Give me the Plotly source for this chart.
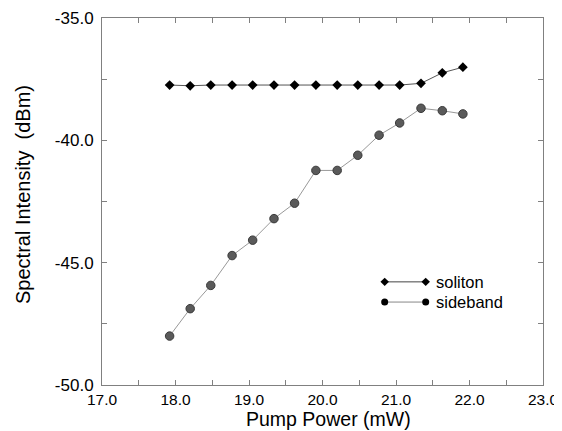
import plotly.graph_objects as go

pump_power = [17.92, 18.20, 18.48, 18.77, 19.05, 19.34, 19.62, 19.91, 20.20, 20.48, 20.77, 21.05, 21.34, 21.63, 21.91]
soliton = [-37.74, -37.77, -37.74, -37.74, -37.74, -37.74, -37.74, -37.74, -37.74, -37.74, -37.74, -37.74, -37.67, -37.24, -37.01]
sideband = [-48.0, -46.88, -45.93, -44.71, -44.08, -43.20, -42.57, -41.23, -41.23, -40.61, -39.79, -39.29, -38.69, -38.79, -38.92]
series_names = ["soliton", "sideband"]
x_ticks = [17.0, 18.0, 19.0, 20.0, 21.0, 22.0, 23.0]
y_ticks = [-50.0, -45.0, -40.0, -35.0]

FONT = "Liberation Sans, Arial, Helvetica, sans-serif"

# the page body has an 8px margin, so the figure is made 8px smaller and offsets reduced
PW, PH = 441, 367  # plot area size in px

fig = go.Figure()
fig.add_trace(go.Scatter(
    x=pump_power, y=soliton, mode="lines+markers", name=series_names[0],
    line=dict(color="#555555", width=1),
    marker=dict(symbol="diamond", size=7.5, color="black"),
    showlegend=False))
fig.add_trace(go.Scatter(
    x=pump_power, y=sideband, mode="lines+markers", name=series_names[1],
    line=dict(color="#999999", width=1),
    marker=dict(symbol="circle", size=8.5, color="#5a5a5a", line=dict(color="#3a3a3a", width=1)),
    showlegend=False))

# legend samples on an overlay axis (0..1)
leg_x = [0.641, 0.734]
fig.add_trace(go.Scatter(x=leg_x, y=[0.281, 0.281], xaxis="x2", yaxis="y2", mode="lines+markers",
                         line=dict(color="#444444", width=1),
                         marker=dict(symbol="diamond", size=6.5, color="black"), showlegend=False,
                         hoverinfo="skip"))
fig.add_trace(go.Scatter(x=leg_x, y=[0.226, 0.226], xaxis="x2", yaxis="y2", mode="lines+markers",
                         line=dict(color="#888888", width=1),
                         marker=dict(symbol="circle", size=7, color="black"), showlegend=False,
                         hoverinfo="skip"))
for name, yy in zip(series_names, [0.281, 0.226]):
    fig.add_annotation(x=0.753, y=yy, xref="paper", yref="paper", text=name, showarrow=False,
                       xanchor="left", yanchor="middle", font=dict(family=FONT, size=16.5, color="black"))

# axis titles
fig.add_annotation(x=(328 - 102) / PW, y=-(419 - 385) / PH, xref="paper", yref="paper",
                   text="Pump Power (mW)", showarrow=False, xanchor="center", yanchor="middle",
                   font=dict(family=FONT, size=19.5, color="black"))
fig.add_annotation(x=-(102 - 23) / PW, y=(385 - 195) / PH, xref="paper", yref="paper",
                   text="Spectral Intensity  (dBm)", showarrow=False, xanchor="center", yanchor="middle",
                   textangle=-90, font=dict(family=FONT, size=20, color="black"))

axis_common = dict(showgrid=False, zeroline=False, showline=True, linecolor="#808080", linewidth=1,
                   mirror="ticks", ticks="inside", ticklen=5, tickcolor="#808080", automargin=False)

fig.update_layout(
    width=554, height=423,
    margin=dict(l=94, r=19, t=10, b=46),
    paper_bgcolor="white", plot_bgcolor="white",
    xaxis=dict(range=[17, 23], tickvals=x_ticks, ticktext=[f"{v:.1f}" for v in x_ticks],
               tickfont=dict(family=FONT, size=15.5, color="black"),
               minor=dict(ticks="inside", ticklen=5, tickcolor="#808080", dtick=0.5),
               **axis_common),
    yaxis=dict(range=[-50, -35], tickvals=y_ticks, ticktext=[f"{v:.1f}" for v in y_ticks],
               tickfont=dict(family=FONT, size=17, color="black"),
               minor=dict(ticks="inside", ticklen=5, tickcolor="#808080", dtick=2.5),
               ticklabelstandoff=4,
               **axis_common),
    xaxis2=dict(range=[0, 1], overlaying="x", visible=False, fixedrange=True),
    yaxis2=dict(range=[0, 1], overlaying="y", visible=False, fixedrange=True),
    showlegend=False,
)

fig.write_html("out.html")
